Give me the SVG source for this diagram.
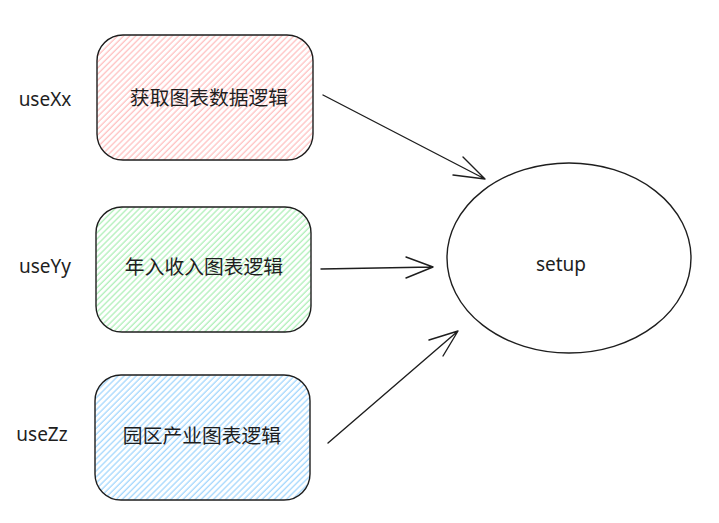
<svg xmlns="http://www.w3.org/2000/svg" width="719" height="523" viewBox="0 0 719 523">
<style>
.box{stroke:#1e1e1e;stroke-width:1.4;}
.lbl{font-family:"Noto Sans CJK SC","Noto Sans",sans-serif;font-size:19.8px;fill:#1e1e1e;text-anchor:middle;}
.hand{font-family:"Noto Sans",sans-serif;font-size:19px;fill:#1e1e1e;text-anchor:middle;}
.con{fill:none;stroke:#1e1e1e;stroke-width:1.4;stroke-linecap:round;stroke-linejoin:round;}
</style>
<defs>
<pattern id="hp" width="4.3" height="4.3" patternUnits="userSpaceOnUse" patternTransform="rotate(45)"><line x1="1" y1="0" x2="1" y2="4.3" stroke="#ffbcbc" stroke-width="1.2"/></pattern>
<pattern id="hg" width="4.3" height="4.3" patternUnits="userSpaceOnUse" patternTransform="rotate(45)"><line x1="1" y1="0" x2="1" y2="4.3" stroke="#a8eeb2" stroke-width="1.2"/></pattern>
<pattern id="hb" width="4.3" height="4.3" patternUnits="userSpaceOnUse" patternTransform="rotate(45)"><line x1="1" y1="0" x2="1" y2="4.3" stroke="#9bd3fd" stroke-width="1.2"/></pattern>
</defs>
<rect width="719" height="523" fill="#ffffff"/>
<g id="label-xx"><text class="hand" x="45" y="106">useXx</text></g>
<g id="label-yy"><text class="hand" x="45" y="273">useYy</text></g>
<g id="label-zz"><text class="hand" x="42" y="441">useZz</text></g>
<g id="node-1"><rect class="box" x="97" y="35" width="216" height="125" rx="26" fill="url(#hp)"/><text class="lbl" x="209" y="105">获取图表数据逻辑</text></g>
<g id="node-2"><rect class="box" x="96" y="207" width="215" height="125" rx="26" fill="url(#hg)"/><text class="lbl" x="204" y="274">年入收入图表逻辑</text></g>
<g id="node-3"><rect class="box" x="95" y="375" width="215" height="125" rx="26" fill="url(#hb)"/><text class="lbl" x="202" y="443">园区产业图表逻辑</text></g>
<g id="node-setup"><ellipse class="box" cx="569" cy="258" rx="122" ry="95" fill="none"/><text class="hand" x="561" y="271">setup</text></g>
<g id="connectors">
<path class="con" d="M323 95 L485 179 M463 157 L485 179 L453 175"/>
<path class="con" d="M321 269 L433 267 M406 257 L433 267 L406 278"/>
<path class="con" d="M328 443 L458 331 M429 340 L458 331 L443 356"/>
</g>
</svg>
